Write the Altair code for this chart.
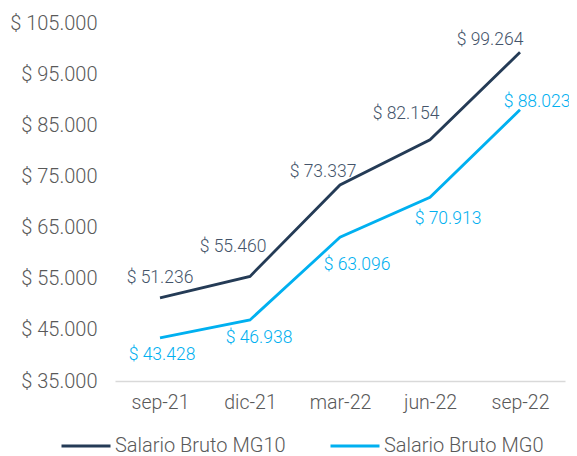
import altair as alt
import pandas as pd

categories = ["sep-21", "dic-21", "mar-22", "jun-22", "sep-22"]
mg10 = [51236, 55460, 73337, 82154, 99264]
mg0 = [43428, 46938, 63096, 70913, 88023]
series_names = ["Salario Bruto MG10", "Salario Bruto MG0"]

# label nudges (pixels) for data labels
mg10_dx = [0, -17, -17, -24, -30]
mg10_dy = [-20, -29, -13, -26, -12]
mg0_dx = [2, 9, 17, 18, 17]
mg0_dy = [17, 18, 28, 22, -8]

DARK = "#243B56"
DARK_TEXT = "#44546A"
CYAN = "#00B0F0"
GRAY = "#595959"
FONT = "Roboto"

rows = []
for i, c in enumerate(categories):
    rows.append(dict(cat=c, series=series_names[0], value=mg10[i], dx=mg10_dx[i], dy=mg10_dy[i]))
    rows.append(dict(cat=c, series=series_names[1], value=mg0[i], dx=mg0_dx[i], dy=mg0_dy[i]))
df = pd.DataFrame(rows)

base = alt.Chart(df).encode(
    x=alt.X("cat:N", sort=categories, title=None,
            scale=alt.Scale(type="point", padding=0.5),
            axis=alt.Axis(labelAngle=0, ticks=False, domainColor="#D9D9D9", domainWidth=1.3,
                          labelFontSize=19.5, labelColor=GRAY, labelFont=FONT, labelFontWeight=300,
                          labelPadding=12, grid=False)),
    y=alt.Y("value:Q", title=None,
            scale=alt.Scale(domain=[35000, 105000], nice=False, zero=False),
            axis=alt.Axis(values=list(range(35000, 105001, 10000)), domain=False, ticks=False,
                          grid=False, labelFontSize=20, labelColor=GRAY, labelFont=FONT,
                          labelFontWeight=300, labelPadding=18,
                          labelExpr="'$ ' + replace(format(datum.value, ',.0f'), ',', '.')")),
)

lines = base.mark_line(strokeWidth=2.8).encode(
    color=alt.Color("series:N", sort=series_names,
                    scale=alt.Scale(domain=series_names, range=[DARK, CYAN]),
                    legend=alt.Legend(title=None, orient="none", direction="horizontal",
                                      legendX=-55, legendY=358 + 39,
                                      symbolType="stroke", symbolSize=2401, symbolStrokeWidth=2.8,
                                      labelFontSize=20, labelFont=FONT, labelFontWeight=300,
                                      labelColor=GRAY, labelOffset=3, columnPadding=38,
                                      labelLimit=400)),
)

def labels(name, color):
    return base.transform_filter(alt.datum.series == name).transform_calculate(
        label="'$ ' + replace(format(datum.value, ',.0f'), ',', '.')"
    ).mark_text(fontSize=17.5, font=FONT, fontWeight=300, color=color,
                dx=alt.expr("datum.dx"), dy=alt.expr("datum.dy")).encode(
        text="label:N",
    )

chart = alt.layer(lines, labels(series_names[0], DARK_TEXT), labels(series_names[1], CYAN)).properties(
    width=450, height=358,
    autosize=alt.AutoSizeParams(type="none"),
    padding={"left": 107, "top": 15, "right": 4, "bottom": 75},
).configure_view(stroke=None)

chart.save("out.html", embed_options={"renderer": "svg", "actions": False})
